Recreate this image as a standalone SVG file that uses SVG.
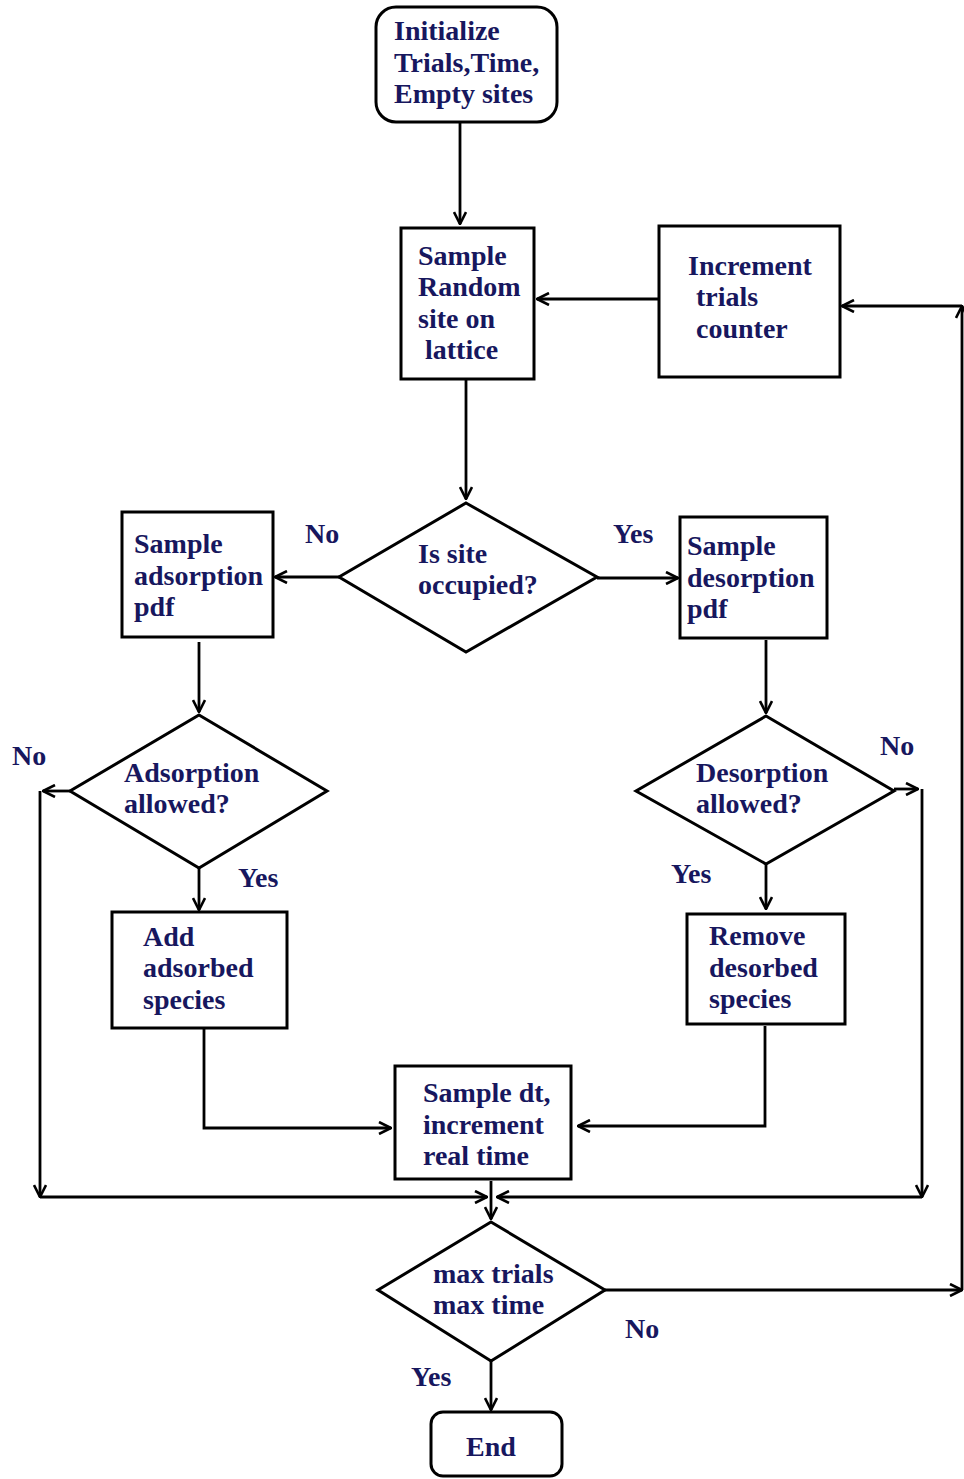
<svg xmlns="http://www.w3.org/2000/svg" width="964" height="1479" viewBox="0 0 964 1479">
<style>
.box{fill:#fff;stroke:#000;stroke-width:3}
.t{font-family:"Liberation Serif","Times New Roman",serif;font-weight:bold;font-size:28px;fill:#17175e}
.c{fill:none;stroke:#000;stroke-width:2.8}
</style>
<defs>
<marker id="a" viewBox="0 0 14 14" refX="13" refY="7" markerWidth="14" markerHeight="14" markerUnits="userSpaceOnUse" orient="auto">
<path d="M1,1 L13,7 L1,13" fill="none" stroke="#000" stroke-width="2.6"/>
</marker>
</defs>
<rect width="964" height="1479" fill="#fff"/>
<g id="connectors">
<path class="c" d="M460,122 V224" marker-end="url(#a)"/>
<path class="c" d="M659,299 H537" marker-end="url(#a)"/>
<path class="c" d="M605,1290 H962" marker-end="url(#a)"/>
<path class="c" d="M962,1290 V306" marker-end="url(#a)"/>
<path class="c" d="M962,306 H842" marker-end="url(#a)"/>
<path class="c" d="M466,379 V499" marker-end="url(#a)"/>
<path class="c" d="M339,577 H275" marker-end="url(#a)"/>
<path class="c" d="M597,578 H678" marker-end="url(#a)"/>
<path class="c" d="M199,642 V712" marker-end="url(#a)"/>
<path class="c" d="M70,791 H43" marker-end="url(#a)"/>
<path class="c" d="M40,791 V1197" marker-end="url(#a)"/>
<path class="c" d="M40,1197 H487" marker-end="url(#a)"/>
<path class="c" d="M199,868 V910" marker-end="url(#a)"/>
<path class="c" d="M204,1028 V1128 H391" marker-end="url(#a)"/>
<path class="c" d="M766,640 V713" marker-end="url(#a)"/>
<path class="c" d="M894,789 H918" marker-end="url(#a)"/>
<path class="c" d="M922,789 V1197" marker-end="url(#a)"/>
<path class="c" d="M922,1197 H497" marker-end="url(#a)"/>
<path class="c" d="M766,864 V909" marker-end="url(#a)"/>
<path class="c" d="M765,1026 V1126 H578" marker-end="url(#a)"/>
<path class="c" d="M491,1181 V1219" marker-end="url(#a)"/>
<path class="c" d="M491,1361 V1410" marker-end="url(#a)"/>
</g>
<g id="init">
<rect class="box" x="376" y="7" width="181" height="115" rx="20"/>
<text class="t" x="394" y="40">Initialize</text>
<text class="t" x="394" y="72">Trials,Time,</text>
<text class="t" x="394" y="103">Empty sites</text>
</g>
<g id="sample-random">
<rect class="box" x="401" y="228" width="133" height="151"/>
<text class="t" x="418" y="265">Sample</text>
<text class="t" x="418" y="296">Random</text>
<text class="t" x="418" y="328">site on</text>
<text class="t" x="425" y="359">lattice</text>
</g>
<g id="increment-trials">
<rect class="box" x="659" y="226" width="181" height="151"/>
<text class="t" x="688" y="275">Increment</text>
<text class="t" x="696" y="306">trials</text>
<text class="t" x="696" y="338">counter</text>
</g>
<g id="is-occupied">
<polygon class="box" points="466,503 597,577 466,652 339,577"/>
<text class="t" x="418" y="563">Is site</text>
<text class="t" x="418" y="594">occupied?</text>
</g>
<g id="sample-adsorption">
<rect class="box" x="122" y="512" width="151" height="125"/>
<text class="t" x="134" y="553">Sample</text>
<text class="t" x="134" y="585">adsorption</text>
<text class="t" x="134" y="616">pdf</text>
</g>
<g id="sample-desorption">
<rect class="box" x="680" y="517" width="147" height="121"/>
<text class="t" x="687" y="555">Sample</text>
<text class="t" x="687" y="587">desorption</text>
<text class="t" x="687" y="618">pdf</text>
</g>
<g id="adsorption-allowed">
<polygon class="box" points="199,715 327,791 199,868 70,791"/>
<text class="t" x="124" y="782">Adsorption</text>
<text class="t" x="124" y="813">allowed?</text>
</g>
<g id="desorption-allowed">
<polygon class="box" points="766,716 894,791 766,864 636,791"/>
<text class="t" x="696" y="782">Desorption</text>
<text class="t" x="696" y="813">allowed?</text>
</g>
<g id="add-adsorbed">
<rect class="box" x="112" y="912" width="175" height="116"/>
<text class="t" x="143" y="946">Add</text>
<text class="t" x="143" y="977">adsorbed</text>
<text class="t" x="143" y="1009">species</text>
</g>
<g id="remove-desorbed">
<rect class="box" x="687" y="914" width="158" height="110"/>
<text class="t" x="709" y="945">Remove</text>
<text class="t" x="709" y="977">desorbed</text>
<text class="t" x="709" y="1008">species</text>
</g>
<g id="sample-dt">
<rect class="box" x="395" y="1066" width="176" height="113"/>
<text class="t" x="423" y="1102">Sample dt,</text>
<text class="t" x="423" y="1134">increment</text>
<text class="t" x="423" y="1165">real time</text>
</g>
<g id="max-check">
<polygon class="box" points="491,1222 605,1290 491,1361 378,1290"/>
<text class="t" x="433" y="1283">max trials</text>
<text class="t" x="433" y="1314">max time</text>
</g>
<g id="end">
<rect class="box" x="431" y="1412" width="131" height="64" rx="12"/>
<text class="t" x="491" y="1456" text-anchor="middle">End</text>
</g>
<g id="labels">
<text class="t" x="305" y="543">No</text>
<text class="t" x="613" y="543">Yes</text>
<text class="t" x="12" y="765">No</text>
<text class="t" x="238" y="887">Yes</text>
<text class="t" x="880" y="755">No</text>
<text class="t" x="671" y="883">Yes</text>
<text class="t" x="625" y="1338">No</text>
<text class="t" x="411" y="1386">Yes</text>
</g>
</svg>
